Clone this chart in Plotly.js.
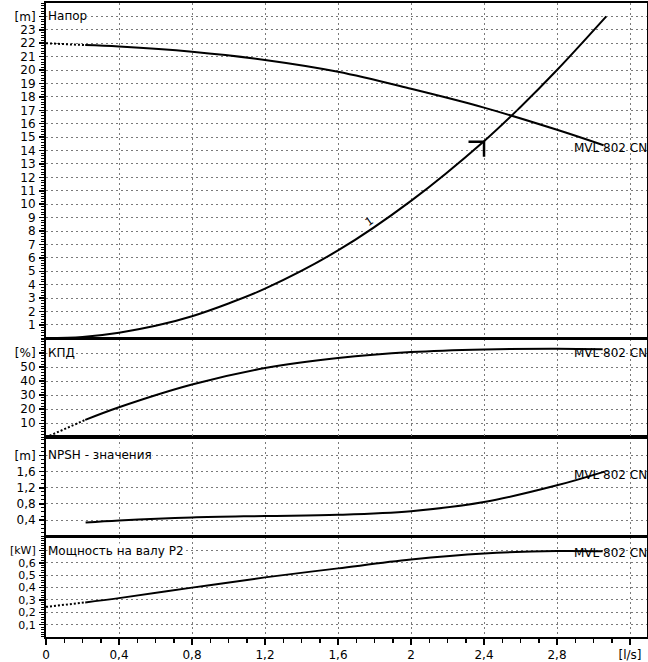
<!DOCTYPE html>
<html>
<head>
<meta charset="utf-8">
<script src="https://cdn.plot.ly/plotly-3.0.1.min.js"></script>
<style>html,body{margin:0;padding:0;background:#fff;}#chart{width:648px;height:662px;}</style>
</head>
<body>
<div id="chart"></div>
<script>
// ---- data ----
const pumpName = 'MVL 802 CN';

const headDotQ = [0, 0.215];
const headDotH = [22.0, 21.86];
const headQ = [0.215, 0.4, 0.8, 1.2, 1.6, 2.0, 2.4, 2.8, 3.055];
const headH = [21.86, 21.75, 21.36, 20.75, 19.87, 18.6, 17.2, 15.55, 14.4];

const sysQ = [0, 0.2, 0.4, 0.6, 0.8, 1.0, 1.2, 1.6, 2.0, 2.4, 2.6, 2.8, 3.07];
const sysH = [0, 0.1, 0.42, 0.93, 1.65, 2.6, 3.7, 6.55, 10.25, 14.7, 17.25, 20.0, 24.0];

const dutyQ = [2.315, 2.4, 2.4];
const dutyH = [14.65, 14.65, 13.53];

const effDotQ = [0, 0.215];
const effDotV = [0, 12.4];
const effQ = [0.215, 0.4, 0.8, 1.2, 1.6, 2.0, 2.4, 2.8, 3.05];
const effV = [12.4, 21.4, 37.6, 49.3, 56.4, 60.7, 62.6, 63.1, 62.7];

const npshQ = [0.217, 0.4, 0.8, 1.2, 1.6, 2.0, 2.4, 2.8, 3.06];
const npshV = [0.34, 0.39, 0.465, 0.5, 0.53, 0.62, 0.845, 1.26, 1.6];

const powDotQ = [0, 0.215];
const powDotV = [0.244, 0.28];
const powQ = [0.215, 0.4, 0.8, 1.2, 1.6, 2.0, 2.4, 2.8, 3.05];
const powV = [0.28, 0.315, 0.40, 0.483, 0.556, 0.627, 0.676, 0.697, 0.695];

const xTickVals = [0, 0.4, 0.8, 1.2, 1.6, 2.0, 2.4, 2.8, 3.2];
const xTickText = ['0', '0,4', '0,8', '1,2', '1,6', '2', '2,4', '2,8', '[l/s]'];

const headTickVals = [1,2,3,4,5,6,7,8,9,10,11,12,13,14,15,16,17,18,19,20,21,22,23,24];
const headTickText = ['1','2','3','4','5','6','7','8','9','10','11','12','13','14','15','16','17','18','19','20','21','22','23','[m]'];
const effTickVals = [10, 20, 30, 40, 50, 60];
const effTickText = ['10', '20', '30', '40', '50', '[%]'];
const npshTickVals = [0.4, 0.8, 1.2, 1.6, 2.0];
const npshTickText = ['0,4', '0,8', '1,2', '1,6', '[m]'];
const powTickVals = [0.1, 0.2, 0.3, 0.4, 0.5, 0.6, 0.7];
const powTickText = ['0,1', '0,2', '0,3', '0,4', '0,5', '0,6', '[kW]'];

const panelTitles = ['Напор', 'КПД', 'NPSH - значения', 'Мощность на валу P2'];
const panelTitleY = [24, 60, 2.0, 0.7];
const pumpLabelY = [14.2, 60.4, 1.51, 0.68];

// ---- styles ----
const FONT = 'DejaVu Sans, Verdana, sans-serif';
const GRID = '#7a7a7a';
const GDASH = '2px,3px';
const solid = {color: '#000', width: 2, shape: 'spline'};
const dotted = {color: '#000', width: 2, dash: '2px,2px'};

const traces = [
  {x: headDotQ, y: headDotH, xaxis: 'x4', yaxis: 'y', mode: 'lines', line: dotted},
  {x: headQ, y: headH, xaxis: 'x4', yaxis: 'y', mode: 'lines', line: solid},
  {x: sysQ, y: sysH, xaxis: 'x4', yaxis: 'y', mode: 'lines', line: solid},
  {x: dutyQ, y: dutyH, xaxis: 'x4', yaxis: 'y', mode: 'lines', line: {color: '#000', width: 2.5}},
  {x: effDotQ, y: effDotV, xaxis: 'x3', yaxis: 'y2', mode: 'lines', line: dotted},
  {x: effQ, y: effV, xaxis: 'x3', yaxis: 'y2', mode: 'lines', line: solid},
  {x: npshQ, y: npshV, xaxis: 'x2', yaxis: 'y3', mode: 'lines', line: solid},
  {x: powDotQ, y: powDotV, xaxis: 'x', yaxis: 'y4', mode: 'lines', line: dotted},
  {x: powQ, y: powV, xaxis: 'x', yaxis: 'y4', mode: 'lines', line: solid}
];

const XR = [0, 3.293];
function xax(anchor, bottom) {
  const a = {
    range: XR, anchor: anchor,
    showline: true, linecolor: '#000', linewidth: 2, mirror: true,
    tickmode: 'array', tickvals: xTickVals, ticktext: xTickText,
    showticklabels: bottom, ticks: bottom ? 'outside' : '', ticklen: 6, tickwidth: 1.5, tickcolor: '#000',
    showgrid: true, gridcolor: GRID, griddash: GDASH, gridwidth: 1,
    zeroline: false, fixedrange: true,
    tickfont: {family: FONT, size: 12, color: '#000'}
  };
  if (bottom) {
    a.minor = {tickmode: 'linear', tick0: 0, dtick: 0.1, ticks: 'outside', ticklen: 4, tickwidth: 1.5, tickcolor: '#000', showgrid: false};
  } else {
    a.matches = 'x';
  }
  return a;
}
function yax(anchor, domain, range, vals, text, minorDt, fs) {
  return {
    anchor: anchor, domain: domain, range: range,
    showline: true, linecolor: '#000', linewidth: 2, mirror: true,
    tickmode: 'array', tickvals: vals, ticktext: text,
    ticks: 'outside', ticklen: 5, tickwidth: 1.5, tickcolor: '#000',
    minor: {tickmode: 'linear', tick0: 0, dtick: minorDt, ticks: 'outside', ticklen: 3, tickwidth: 1, tickcolor: '#000', showgrid: false},
    showgrid: true, gridcolor: GRID, griddash: GDASH, gridwidth: 1,
    zeroline: false, fixedrange: true, ticklabelstandoff: 1,
    tickfont: {family: FONT, size: fs, color: '#000'}
  };
}

const yRefs = ['y', 'y2', 'y3', 'y4'];
const annotations = [];
for (let i = 0; i < 4; i++) {
  annotations.push({
    text: panelTitles[i], xref: 'paper', x: 0, xanchor: 'left', xshift: 1,
    yref: yRefs[i], y: panelTitleY[i], yanchor: 'middle', showarrow: false,
    bgcolor: '#fff', borderpad: 0,
    font: {family: FONT, size: 12, color: '#000'}
  });
  annotations.push({
    text: pumpName, xref: 'paper', x: 1.004, xanchor: 'right',
    yref: yRefs[i], y: pumpLabelY[i], yanchor: 'middle', showarrow: false,
    font: {family: FONT, size: 12, color: '#000'}
  });
}
annotations.push({
  text: '1', xref: 'x4', x: 1.773, yref: 'y', y: 8.7, showarrow: false, textangle: -35,
  font: {family: FONT, size: 11, color: '#000'}
});

const layout = {
  width: 648, height: 662,
  margin: {l: 46, r: 1, t: 3, b: 25, pad: 0},
  paper_bgcolor: '#fff', plot_bgcolor: '#fff',
  showlegend: false,
  font: {family: FONT, size: 12, color: '#000'},
  xaxis: xax('y4', true),
  xaxis2: xax('y3', false),
  xaxis3: xax('y2', false),
  xaxis4: xax('y', false),
  yaxis: yax('x4', [0.4711, 1], [0, 25], headTickVals, headTickText, 0.2, 12),
  yaxis2: yax('x3', [0.315, 0.470], [0, 70], effTickVals, effTickText, 2, 12),
  yaxis3: yax('x2', [0.159, 0.315], [0, 2.45], npshTickVals, npshTickText, 0.1, 12),
  yaxis4: yax('x', [0, 0.1577], [0, 0.81], powTickVals, powTickText, 0.02, 11),
  annotations: annotations
};

Plotly.newPlot('chart', traces, layout, {staticPlot: true, displayModeBar: false});
</script>
</body>
</html>
